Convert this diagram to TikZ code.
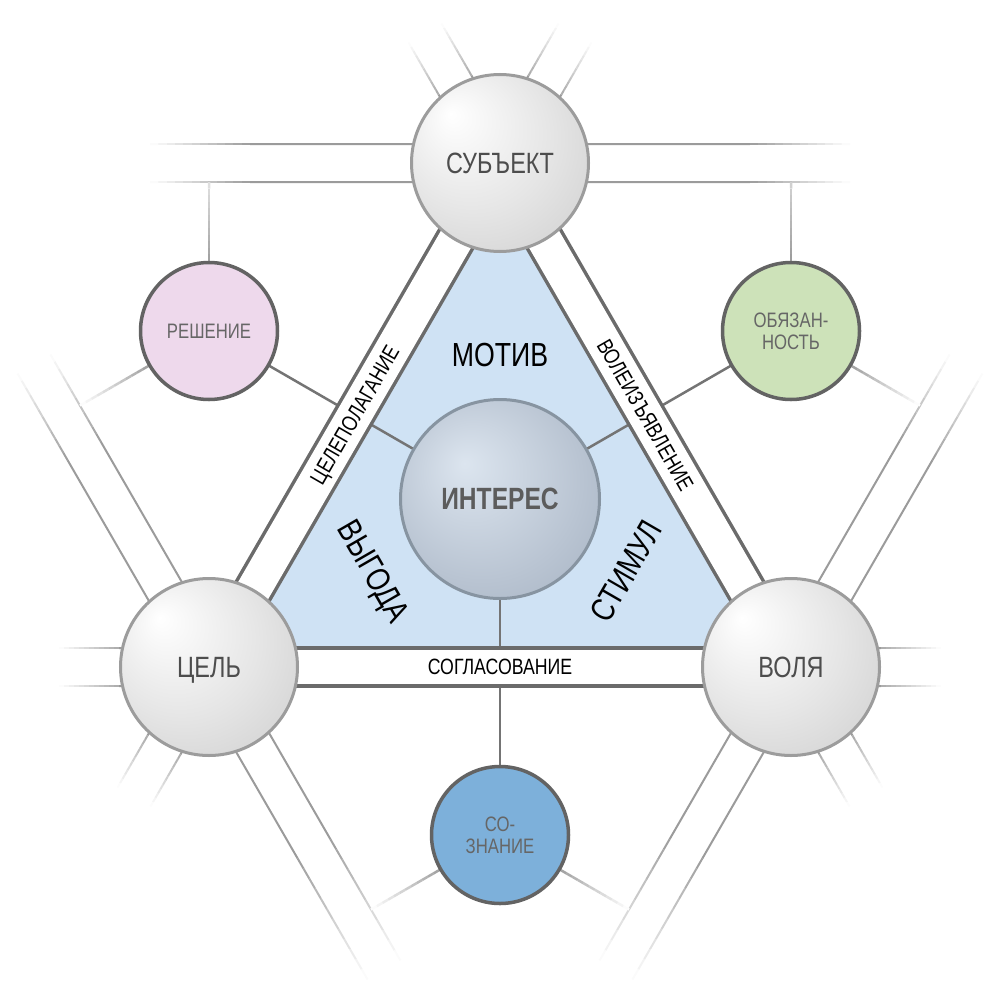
\documentclass[tikz,border=0pt]{standalone}
\usepackage{fontspec}
\setmainfont{Liberation Sans}[FakeStretch=0.8]
\usepackage{tikz}
\usetikzlibrary{calc}

\pgfdeclarelayer{back}
\pgfdeclarelayer{band}
\pgfsetlayers{back,band,main}

\definecolor{latgray}{HTML}{9B9B9B}
\definecolor{bandgray}{HTML}{6B6B6B}
\definecolor{conngray}{HTML}{747474}
\definecolor{trifill}{HTML}{CFE2F4}
\definecolor{vborder}{HTML}{9C9C9C}
\definecolor{vtext}{HTML}{4D4D4D}
\definecolor{iborder}{HTML}{8794A1}
\definecolor{itext}{HTML}{5C5C5C}
\definecolor{ihigh}{HTML}{DCE5EF}
\definecolor{imid}{HTML}{B9C4D2}
\definecolor{iedge}{HTML}{97A4B5}
\definecolor{kborder}{HTML}{636363}
\definecolor{ktext}{HTML}{666666}
\definecolor{kpink}{HTML}{EED9EC}
\definecolor{kgreen}{HTML}{CDE2B9}
\definecolor{kblue}{HTML}{7DB0DA}

\pgfdeclareradialshading{vsphere}{\pgfpoint{-14bp}{14bp}}{color(0bp)=(white); color(22bp)=(black!10); color(50bp)=(black!24)}
\pgfdeclareradialshading{isphere}{\pgfpoint{-9bp}{9bp}}{color(0bp)=(ihigh); color(25bp)=(imid); color(50bp)=(iedge)}

% line that fades out from #1 towards #2, starting at fraction #4
\newcommand\fadeline[6]{%
  \foreach \k in {0,...,11}{%
    \pgfmathsetmacro\ta{#4+(1-#4)*\k/12}%
    \pgfmathsetmacro\tb{#4+(1-#4)*(\k+1)/12}%
    \pgfmathtruncatemacro\pc{#5+(#6-#5)*(\k+0.5)/12}%
    \draw[#3,draw=latgray!\pc!white] ($(#1)!\ta!(#2)$) -- ($(#1)!\tb!(#2)$);}}

% two parallel lattice lines, shifted by +-(#5,#6)
\newcommand\fadepair[6]{%
  \foreach \s in {1,-1}{%
    \begin{scope}[transform canvas={shift={({\s*#5},{\s*#6})}}]
      \draw[latt] (#1.center) -- ($(#1)!#3!(#2)$);
      \fadeline{#1}{#2}{latt}{#3}{#4}{0}
    \end{scope}}}

\begin{document}
\begin{tikzpicture}[x=0.2mm,y=-0.2mm,
  vert/.style={circle,draw=vborder,line width=0.6mm,shade,shading=vsphere,minimum size=35.4mm,inner sep=0pt,text=vtext,font=\fontsize{16.7}{17}\selectfont,text depth=0pt},
  core/.style={circle,draw=iborder,line width=0.6mm,shade,shading=isphere,minimum size=39.8mm,inner sep=0pt,text=itext,font=\bfseries\fontsize{17.5}{18}\selectfont,text depth=0pt},
  aux/.style={circle,draw=kborder,line width=0.7mm,minimum size=27.4mm,inner sep=0pt,text=ktext,align=center,font=\fontsize{11.9}{12.6}\selectfont},
  band/.style={draw=bandgray,line width=0.7mm,double=white,double distance=6.9mm},
  latt/.style={draw=latgray,line width=0.4mm},
  conn/.style={draw=conngray,line width=0.5mm},
  kline/.style={line width=0.5mm},
  blab/.style={font=\fontsize{12.6}{13}\selectfont,text depth=0pt,inner sep=0pt},
  tlab/.style={font=\fontsize{19}{19}\selectfont,text depth=0pt}]

\useasboundingbox (0,0) rectangle (1000,1000);

\draw (500,163) node[vert] (V1) {СУБЪЕКТ} (209,667) node[vert] (V2) {ЦЕЛЬ} (791,667) node[vert] (V3) {ВОЛЯ};
\draw (500,499) node[core] (I0) {ИНТЕРЕС};
\draw (209,331) node[aux,fill=kpink] (K1) {РЕШЕНИЕ} (791,331) node[aux,fill=kgreen] (K2) {ОБЯЗАН-\\НОСТЬ} (500,835) node[aux,fill=kblue] (K3) {СО-\\ЗНАНИЕ};

\node[tlab] (L1) at (500,355) {МОТИВ};
\node[tlab,rotate=-60] (L2) at (374,571) {ВЫГОДА};
\node[tlab,rotate=60] (L3) at (626,571) {СТИМУЛ};

% free ends of the lattice
\coordinate (a1) at (150,163); \coordinate (a2) at (850,163);
\coordinate (b1) at (34,364);  \coordinate (b2) at (384,970);
\coordinate (c1) at (966,364); \coordinate (c2) at (616,970);
\coordinate (e1) at (575,33);  \coordinate (e2) at (425,33);
\coordinate (e3) at (59,667);  \coordinate (e4) at (134,797);
\coordinate (e5) at (941,667); \coordinate (e6) at (866,797);
\coordinate (t1) at (209,182); \coordinate (t2) at (80,405.5);
\coordinate (t3) at (791,182); \coordinate (t4) at (920,405.5);
\coordinate (t5) at (371,909.5); \coordinate (t6) at (629,909.5);

\begin{pgfonlayer}{back}
\fill[trifill] (500,201) -- (242,648) -- (758,648) -- cycle;
\draw[conn] (I0.center) -- (K1.center);
\draw[conn] (I0.center) -- (K2.center);
\draw[conn] (I0.center) -- (K3.center);

\fadepair{V1}{a1}{0.714}{100}{0mm}{3.8mm}
\fadepair{V1}{a2}{0.714}{100}{0mm}{3.8mm}
\fadepair{V2}{b1}{0.714}{100}{3.29mm}{1.9mm}
\fadepair{V2}{b2}{0.6}{100}{3.29mm}{1.9mm}
\fadepair{V3}{c1}{0.714}{100}{3.29mm}{-1.9mm}
\fadepair{V3}{c2}{0.6}{100}{3.29mm}{-1.9mm}

\fadepair{V1}{e1}{0.6}{85}{3.29mm}{-1.9mm}
\fadepair{V1}{e2}{0.6}{85}{3.29mm}{1.9mm}
\fadepair{V2}{e3}{0.6}{85}{0mm}{3.8mm}
\fadepair{V2}{e4}{0.6}{85}{3.29mm}{-1.9mm}
\fadepair{V3}{e5}{0.6}{85}{0mm}{3.8mm}
\fadepair{V3}{e6}{0.6}{85}{3.29mm}{1.9mm}

\fadeline{K1}{t1}{kline}{0.47}{95}{30}
\fadeline{K1}{t2}{kline}{0.47}{95}{0}
\fadeline{K2}{t3}{kline}{0.47}{100}{45}
\fadeline{K2}{t4}{kline}{0.47}{95}{0}
\fadeline{K3}{t5}{kline}{0.47}{95}{0}
\fadeline{K3}{t6}{kline}{0.47}{95}{0}
\end{pgfonlayer}

\begin{pgfonlayer}{band}
\draw[band] (V2.center) -- (V1.center) node[midway,sloped,blab] {ЦЕЛЕПОЛАГАНИЕ};
\draw[band] (V1.center) -- (V3.center) node[midway,sloped,blab] {ВОЛЕИЗЪЯВЛЕНИЕ};
\draw[band] (V2.center) -- (V3.center) node[midway,blab] {СОГЛАСОВАНИЕ};
\end{pgfonlayer}

\end{tikzpicture}
\end{document}
